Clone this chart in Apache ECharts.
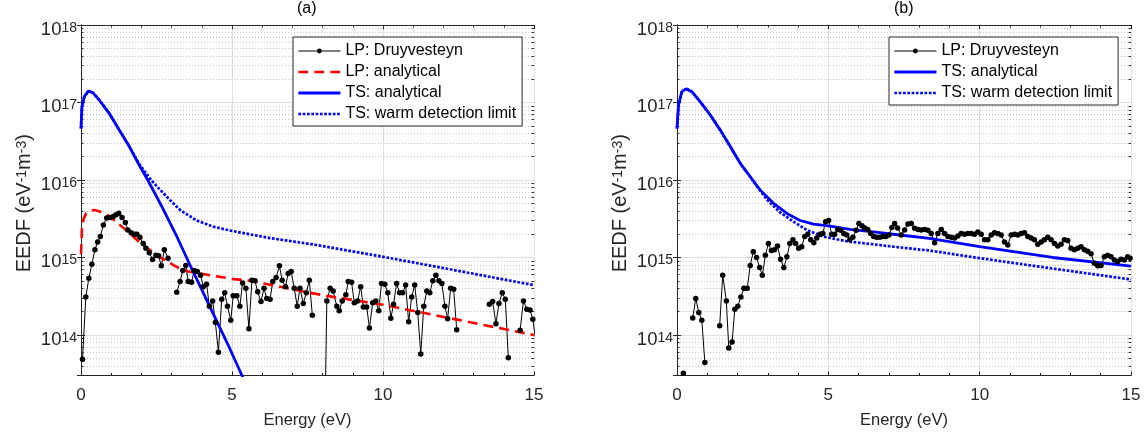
<!DOCTYPE html>
<html>
<head>
<meta charset="utf-8">
<script src="https://cdn.jsdelivr.net/npm/echarts@6/dist/echarts.min.js"></script>
<style>html,body{margin:0;padding:0;background:#fff}#c{width:1148px;height:438px}</style>
</head>
<body>
<div id="c"></div>
<script>
// ---------- data ----------
const panelTitles = ['(a)', '(b)'];
const xTickInterval = 5;
const xMin = 0, xMax = 15;
const yMin = 3e13, yMax = 1e18;
const minorYValues = [4e13,5e13,6e13,7e13,8e13,9e13,
  2e14,3e14,4e14,5e14,6e14,7e14,8e14,9e14,
  2e15,3e15,4e15,5e15,6e15,7e15,8e15,9e15,
  2e16,3e16,4e16,5e16,6e16,7e16,8e16,9e16,
  2e17,3e17,4e17,5e17,6e17,7e17,8e17,9e17];

// panel (a)
const lpDruyvesteynA = [
 [0.05,4.85e13],[0.16,3.1e14],[0.26,5.4e14],[0.36,8.2e14],[0.46,1.26e15],[0.55,1.58e15],[0.64,1.86e15],[0.74,2.63e15],
 [0.85,3.24e15],[0.96,3.27e15],[1.07,3.39e15],[1.16,3.55e15],[1.25,3.72e15],[1.36,3.27e15],[1.47,2.82e15],[1.55,2.26e15],
 [1.66,2.09e15],[1.77,2.0e15],[1.85,2.0e15],[1.95,1.82e15],[2.06,1.51e15],[2.15,1.32e15],[2.26,1.15e15],[2.37,9.4e14],
 [2.48,1.07e15],[2.57,1.05e15],[2.66,7.8e14],[2.76,1.26e15],[2.88,9.8e14],[2.97,null],
 [3.17,3.55e14],[3.28,4.9e14],[3.37,6.8e14],[3.47,7.9e14],[3.55,4.9e14],[3.66,4.8e14],[3.75,6.8e14],[3.85,6.6e14],
 [3.96,5.9e14],[4.05,4.2e14],[4.16,4.5e14],[4.25,2.35e14],[4.36,2.75e14],[4.45,1.45e14],[4.55,6.0e13],[4.66,2.9e14],
 [4.76,3.5e14],[4.85,2.35e14],[4.96,1.55e14],[5.04,3.2e14],[5.16,3.2e14],[5.26,2.35e14],[5.35,4.7e14],[5.46,4.0e14],
 [5.56,1.2e14],[5.66,5.1e14],[5.76,5.0e14],[5.85,3.6e14],[5.96,2.7e14],[6.06,4.0e14],[6.15,2.95e14],[6.26,2.9e14],
 [6.35,4.9e14],[6.46,5.5e14],[6.57,7.8e14],[6.66,5.1e14],[6.77,4.2e14],[6.86,6.2e14],[6.96,6.6e14],[7.06,4.0e14],
 [7.16,2.35e14],[7.25,4.0e14],[7.36,2.55e14],[7.46,3.5e14],[7.56,5.1e14],[7.66,1.8e14],[7.8,null],
 [8.04,1e12],[8.14,2.75e14],[8.25,4.0e14],[8.35,3.7e14],[8.47,2.35e14],[8.55,2.05e14],[8.65,2.75e14],[8.77,3.3e14],
 [8.85,4.9e14],[8.96,4.8e14],[9.05,2.6e14],[9.16,2.75e14],[9.26,4.2e14],[9.35,2.3e14],[9.46,2.3e14],[9.55,1.23e14],
 [9.66,2.6e14],[9.76,2.75e14],[9.86,2.05e14],[9.95,4.6e14],[10.06,4.5e14],[10.16,3.5e14],[10.26,1.65e14],[10.35,2.5e14],
 [10.45,4.6e14],[10.55,3.5e14],[10.65,3.5e14],[10.75,4.4e14],[10.85,1.48e14],[10.95,3.1e14],[11.05,4.4e14],[11.15,1.95e14],
 [11.25,5.7e13],[11.35,2.35e14],[11.45,3.7e14],[11.55,3.5e14],[11.65,5.0e14],[11.75,5.9e14],[11.85,5.0e14],[11.95,4.6e14],
 [12.05,2.35e14],[12.14,1.62e14],[12.24,4.0e14],[12.34,3.9e14],[12.44,1.17e14],[12.6,null],
 [13.52,2.5e14],[13.63,2.7e14],[13.74,1.4e14],[13.84,2.55e14],[13.95,3.5e14],[14.05,2.9e14],[14.15,5.1e13],[14.3,null],
 [14.54,1.15e14],[14.65,2.75e14],[14.76,2.15e14],[14.87,2.1e14],[14.96,1.6e14],[15.05,9e13]
];
const lpAnalyticalA = [
 [0,1.1e15],[0.03,2.3e15],[0.08,3.1e15],[0.17,3.7e15],[0.3,4.0e15],[0.44,4.1e15],[0.6,3.95e15],[0.94,3.4e15],
 [1.2,2.8e15],[1.49,2.26e15],[2.04,1.45e15],[2.59,1.02e15],[3.15,7.6e14],[3.55,6.6e14],[4.27,5.9e14],[5.0,5.3e14],
 [5.6,5.0e14],[6.59,4.2e14],[7.58,3.5e14],[8.35,3.1e14],[10.0,2.45e14],[11.66,1.82e14],[13.32,1.35e14],[15.0,1.0e14]
];
const tsAnalyticalA = [
 [0,4.6e16],[0.03,8.8e16],[0.11,1.19e17],[0.25,1.41e17],[0.39,1.34e17],[0.61,1.07e17],[0.94,7.2e16],[1.27,4.4e16],
 [1.6,2.7e16],[1.93,1.55e16],[2.21,1.0e16],[2.7,4.37e15],[3.15,1.95e15],[3.59,8.3e14],[4.03,3.63e14],[4.47,1.58e14],
 [4.91,6.9e13],[5.33,3.0e13],[5.7,1.5e13]
];
const tsWarmLimitA = [
 [0,4.6e16],[0.03,8.8e16],[0.11,1.19e17],[0.25,1.41e17],[0.39,1.34e17],[0.61,1.07e17],[0.94,7.2e16],[1.27,4.4e16],
 [1.6,2.7e16],[1.93,1.6e16],[2.32,1.0e16],[2.6,7.6e15],[2.95,5.5e15],[3.28,4.1e15],[3.83,3.0e15],[4.38,2.5e15],
 [5.0,2.2e15],[6.26,1.78e15],[7.8,1.45e15],[10.0,1.02e15],[12.0,7.3e14],[14.0,5.2e14],[15.0,4.4e14]
];

// panel (b)
const lpDruyvesteynB = [
 [0.21,3.2e13],[0.35,null],[0.52,1.66e14],[0.62,2.95e14],[0.72,1.95e14],[0.82,1.55e14],[0.92,4.4e13],[1.1,null],
 [1.41,1.32e14],[1.51,5.9e14],[1.63,2.75e14],[1.71,6.8e13],[1.82,8.1e13],[1.91,2.15e14],[2.01,2.35e14],[2.11,3.1e14],
 [2.21,4.0e14],[2.32,4.0e14],[2.42,7.9e14],[2.52,1.19e15],[2.63,1.0e15],[2.73,7.4e14],[2.82,5.9e14],[2.92,1.07e15],
 [3.02,1.51e15],[3.12,1.23e15],[3.22,1.26e15],[3.32,1.41e15],[3.42,9.5e14],[3.53,7.4e14],[3.63,1.02e15],[3.73,1.51e15],
 [3.83,1.7e15],[3.92,1.51e15],[4.02,1.32e15],[4.12,1.38e15],[4.22,1.86e15],[4.32,2.0e15],[4.42,1.7e15],[4.52,1.55e15],
 [4.62,1.78e15],[4.72,2.0e15],[4.82,2.04e15],[4.91,2.9e15],[5.01,3.0e15],[5.11,2.0e15],[5.21,2.0e15],[5.31,2.3e15],
 [5.41,2.24e15],[5.51,2.04e15],[5.61,1.95e15],[5.71,1.7e15],[5.81,1.82e15],[5.92,2.24e15],[6.01,2.75e15],[6.11,2.57e15],
 [6.2,2.4e15],[6.3,2.3e15],[6.4,2.04e15],[6.5,1.86e15],[6.6,1.82e15],[6.7,1.82e15],[6.8,1.86e15],[6.9,1.86e15],
 [7.0,1.95e15],[7.1,2.43e15],[7.19,2.75e15],[7.29,2.4e15],[7.41,1.95e15],[7.52,2.26e15],[7.63,2.7e15],[7.74,2.75e15],
 [7.85,2.38e15],[7.96,2.3e15],[8.07,2.26e15],[8.18,2.3e15],[8.29,2.24e15],[8.4,2.04e15],[8.51,1.55e15],[8.62,2.04e15],
 [8.73,2.3e15],[8.84,2.04e15],[8.95,1.86e15],[9.06,1.82e15],[9.17,1.78e15],[9.28,1.9e15],[9.39,2.04e15],[9.5,2.0e15],
 [9.61,2.04e15],[9.72,2.04e15],[9.83,2.0e15],[9.94,2.14e15],[10.05,2.0e15],[10.16,1.7e15],[10.27,1.7e15],[10.38,1.95e15],
 [10.49,2.09e15],[10.6,2.04e15],[10.71,1.95e15],[10.82,1.58e15],[10.93,1.45e15],[11.04,1.95e15],[11.15,2.0e15],[11.26,1.95e15],
 [11.37,2.04e15],[11.48,2.09e15],[11.59,1.86e15],[11.7,1.78e15],[11.81,1.7e15],[11.92,1.48e15],[12.03,1.58e15],[12.14,1.7e15],
 [12.25,1.82e15],[12.36,1.7e15],[12.47,1.51e15],[12.58,1.41e15],[12.69,1.48e15],[12.8,1.7e15],[12.91,1.66e15],[13.02,1.32e15],
 [13.13,1.26e15],[13.24,1.32e15],[13.35,1.38e15],[13.46,1.26e15],[13.57,1.2e15],[13.68,1.12e15],[13.79,8.4e14],[13.9,7.8e14],
 [14.01,7.9e14],[14.12,1.02e15],[14.23,1.07e15],[14.34,1.02e15],[14.45,9.3e14],[14.56,8.9e14],[14.67,9.5e14],[14.78,9.3e14],
 [14.89,1.02e15],[14.97,9.8e14]
];
const tsAnalyticalB = [
 [0,4.6e16],[0.05,9.3e16],[0.16,1.38e17],[0.3,1.5e17],[0.49,1.38e17],[0.77,1.02e17],[1.1,6.9e16],[1.43,4.4e16],
 [1.76,2.7e16],[2.09,1.64e16],[2.42,1.1e16],[2.75,7.4e15],[3.19,5.0e15],[3.63,3.7e15],[4.07,3.0e15],[4.51,2.7e15],
 [5.0,2.55e15],[5.72,2.3e15],[6.49,2.14e15],[7.35,1.95e15],[8.34,1.76e15],[10.0,1.38e15],[12.41,1.0e15],[15.0,7.75e14]
];
const tsWarmLimitB = [
 [0,4.6e16],[0.05,9.3e16],[0.16,1.38e17],[0.3,1.5e17],[0.49,1.38e17],[0.77,1.02e17],[1.1,6.9e16],[1.43,4.4e16],
 [1.76,2.7e16],[2.09,1.64e16],[2.42,1.1e16],[2.64,8.3e15],[2.97,5.6e15],[3.41,3.8e15],[3.85,2.9e15],[4.29,2.26e15],
 [4.84,1.86e15],[5.61,1.62e15],[6.49,1.48e15],[7.35,1.35e15],[8.34,1.23e15],[10.0,9.8e14],[12.41,7.2e14],[15.0,5.2e14]
];

// ---------- styling / layout ----------
const FONT = '"Liberation Sans", Arial, Helvetica, sans-serif';
const AX = '#262626';
const grids = [
  {left: 81, top: 25, width: 453, height: 350.5},
  {left: 677, top: 25, width: 454, height: 350.5}
];
function supLabel(v) {
  const e = Math.round(Math.log10(v));
  if (Math.abs(v / Math.pow(10, e) - 1) > 1e-6) return '';
  return '{b|10}{s|' + e + '}';
}
const supRich = {
  b: {fontSize: 18.5, lineHeight: 18.5, verticalAlign: 'bottom', fontFamily: FONT, color: AX},
  s: {fontSize: 14, lineHeight: 14, verticalAlign: 'top', padding: [0, 0, 8, 0], fontFamily: FONT, color: AX}
};
const nameRich = {
  b: {fontSize: 20, lineHeight: 20, verticalAlign: 'bottom', fontFamily: FONT, color: AX},
  s: {fontSize: 14, lineHeight: 14, verticalAlign: 'top', padding: [0, 0, 8, 0], fontFamily: FONT, color: AX}
};

const xAxes = [], yAxes = [];
grids.forEach((g, i) => {
  xAxes.push({
    type: 'value', gridIndex: i, min: xMin, max: xMax, interval: xTickInterval, position: 'bottom',
    name: 'Energy (eV)', nameLocation: 'middle', nameGap: 36,
    nameTextStyle: {fontSize: 16.5, color: AX, fontFamily: FONT},
    axisLine: {show: true, lineStyle: {color: AX, width: 1}},
    axisTick: {show: true, inside: true, length: 4, lineStyle: {color: AX}},
    minorTick: {show: true, splitNumber: 5, length: 2.5, lineStyle: {color: AX}},
    splitLine: {show: true, lineStyle: {color: '#dfdfdf', width: 1}},
    axisLabel: {fontSize: 17, color: AX, fontFamily: FONT, margin: 11}
  });
  xAxes.push({
    type: 'value', gridIndex: i, min: xMin, max: xMax, interval: xTickInterval, position: 'top',
    axisLine: {show: true, lineStyle: {color: AX, width: 1}},
    axisTick: {show: true, inside: true, length: 4, lineStyle: {color: AX}},
    minorTick: {show: true, splitNumber: 5, length: 2.5, lineStyle: {color: AX}},
    splitLine: {show: false}, axisLabel: {show: false}
  });
  yAxes.push({
    type: 'log', logBase: 10, gridIndex: i, min: yMin, max: yMax, position: 'left',
    name: '{b|EEDF (eV}{s|-1}{b|m}{s|-3}{b|)}', nameLocation: 'middle', nameRotate: 90, nameGap: 46,
    nameTextStyle: {rich: nameRich, padding: [0, 6, 0, 0]},
    axisLine: {show: true, lineStyle: {color: AX, width: 1}},
    axisTick: {show: true, inside: true, length: 4, lineStyle: {color: AX}},
    splitLine: {show: true, lineStyle: {color: '#dfdfdf', width: 1}},
    axisLabel: {formatter: supLabel, rich: supRich, margin: 4, padding: [10, 0, 0, 0]}
  });
  yAxes.push({
    type: 'log', logBase: 10, gridIndex: i, min: yMin, max: yMax, position: 'right',
    axisLine: {show: true, lineStyle: {color: AX, width: 1}},
    axisTick: {show: true, inside: true, length: 4, lineStyle: {color: AX}},
    splitLine: {show: false}, axisLabel: {show: false}
  });
});

function helperSeries(i) {
  const xa = i * 2, ya = i * 2;
  const tickLen = 0.08;
  const tickData = [];
  minorYValues.forEach(v => {
    tickData.push([{coord: [xMin, v]}, {coord: [xMin + tickLen, v]}]);
    tickData.push([{coord: [xMax - tickLen, v]}, {coord: [xMax, v]}]);
  });
  return [
    {
      type: 'line', name: '_minorGrid' + i, xAxisIndex: xa, yAxisIndex: ya, data: [], silent: true,
      markLine: {
        silent: true, symbol: ['none', 'none'], z: 1, animation: false,
        label: {show: false}, emphasis: {disabled: true},
        lineStyle: {color: '#c4c4c4', type: [1, 2], width: 1},
        data: minorYValues.map(v => ({yAxis: v}))
      }
    },
    {
      type: 'line', name: '_minorTick' + i, xAxisIndex: xa, yAxisIndex: ya, data: [], silent: true,
      markLine: {
        silent: true, symbol: ['none', 'none'], z: 1, animation: false,
        label: {show: false}, emphasis: {disabled: true},
        lineStyle: {color: AX, type: 'solid', width: 1},
        data: tickData
      }
    }
  ];
}

function lpSeries(data, i) {
  return {
    type: 'line', name: 'LP: Druyvesteyn', xAxisIndex: i * 2, yAxisIndex: i * 2, data: data,
    symbol: 'circle', symbolSize: 5.5, showSymbol: true, connectNulls: false,
    itemStyle: {color: '#000'}, lineStyle: {color: '#000', width: 1}, emphasis: {disabled: true}
  };
}
function curve(name, data, i, color, type, width) {
  return {
    type: 'line', name: name, xAxisIndex: i * 2, yAxisIndex: i * 2, data: data,
    symbol: 'none', showSymbol: false, smooth: false,
    itemStyle: {color: color}, lineStyle: {color: color, type: type, width: width, cap: 'butt'},
    emphasis: {disabled: true}
  };
}

const series = [].concat(
  helperSeries(0), helperSeries(1),
  [
    lpSeries(lpDruyvesteynA, 0),
    curve('LP: analytical', lpAnalyticalA, 0, '#ff0000', [10, 6], 2.6),
    curve('TS: analytical', tsAnalyticalA, 0, '#0000ff', 'solid', 2.8),
    curve('TS: warm detection limit', tsWarmLimitA, 0, '#0000ff', [2.7, 1.6], 2.7),
    lpSeries(lpDruyvesteynB, 1),
    curve('TS: analytical', tsAnalyticalB, 1, '#0000ff', 'solid', 2.8),
    curve('TS: warm detection limit', tsWarmLimitB, 1, '#0000ff', [2.7, 1.6], 2.7)
  ]
);

const legendCommon = {
  orient: 'vertical', itemWidth: 42, itemHeight: 6, itemGap: 5,
  padding: [6, 6, 4, 4], borderColor: AX, borderWidth: 1, backgroundColor: '#fff', borderRadius: 0,
  textStyle: {fontSize: 16, color: '#000', fontFamily: FONT},
  lineStyle: {width: 'inherit'}, selectedMode: false, inactiveColor: '#000'
};
const noSym = {opacity: 0};
const chart = echarts.init(document.getElementById('c'), null, {renderer: 'canvas'});
chart.setOption({
  animation: false,
  backgroundColor: '#fff',
  title: [
    {text: panelTitles[0], left: 297, top: 1, padding: 0, textStyle: {fontSize: 16, fontWeight: 'normal', color: '#000', fontFamily: FONT}},
    {text: panelTitles[1], left: 894, top: 1, padding: 0, textStyle: {fontSize: 16, fontWeight: 'normal', color: '#000', fontFamily: FONT}}
  ],
  grid: grids,
  xAxis: xAxes,
  yAxis: yAxes,
  legend: [
    Object.assign({}, legendCommon, {left: 293, top: 37, data: [
      {name: 'LP: Druyvesteyn'},
      {name: 'LP: analytical', itemStyle: noSym},
      {name: 'TS: analytical', itemStyle: noSym},
      {name: 'TS: warm detection limit', itemStyle: noSym}
    ]}),
    Object.assign({}, legendCommon, {left: 889, top: 37, data: [
      {name: 'LP: Druyvesteyn'},
      {name: 'TS: analytical', itemStyle: noSym},
      {name: 'TS: warm detection limit', itemStyle: noSym}
    ]})
  ],
  series: series
});
</script>
</body>
</html>
